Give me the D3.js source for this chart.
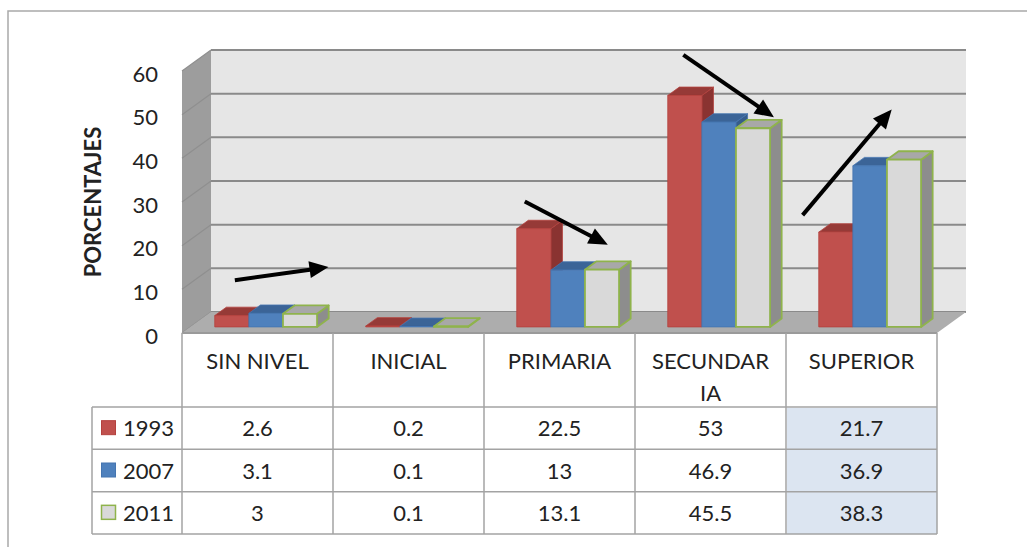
<!DOCTYPE html>
<html>
<head>
<meta charset="utf-8">
<script src="https://cdn.jsdelivr.net/npm/d3@7"></script>
<style>
  body { margin: 0; background: #fff; }
  svg { display: block; }
  text { font-family: Lato, "Open Sans", sans-serif; fill: #222; }
</style>
</head>
<body>
<svg id="chart" width="1027" height="547"></svg>
<script>
// ---- data ----
const categories = ["SIN NIVEL", "INICIAL", "PRIMARIA", "SECUNDARIA", "SUPERIOR"];
const years = ["1993", "2007", "2011"];
const values1993 = [2.6, 0.2, 22.5, 53, 21.7];
const values2007 = [3.1, 0.1, 13, 46.9, 36.9];
const values2011 = [3, 0.1, 13.1, 45.5, 38.3];
const yTicks = [0, 10, 20, 30, 40, 50, 60];
const yTitle = "PORCENTAJES";
// trend arrows, given as [start category position, start value, end category position, end value]
const trendStart = [[0.35, 12.1], [2.27, 30.1], [3.32, 63.7], [4.11, 27.0]];
const trendEnd   = [[0.97, 15.1], [2.82, 20.2], [3.92, 49.4], [4.70, 51.2]];

const seriesValues = [values1993, values2007, values2011];

// ---- layout ----
const svg = d3.select("#chart");
const plotLeft = 182, plotRight = 937;
const floorY = 333;          // front edge of the floor (value 0, front plane)
const depthX = 29, depthY = 21;
const zFront = 0.29, zBack = 0.69;   // bar depth inside the floor

const x = d3.scaleBand().domain(categories).range([plotLeft, plotRight]);
const xPos = d3.scaleLinear().domain([0, categories.length]).range([plotLeft, plotRight]);
const xs = d3.scaleBand().domain(years).range([0, x.bandwidth()]).paddingInner(0).paddingOuter(0.714);
const y = d3.scaleLinear().domain([0, 60]).range([0, 262]);

const project = (px, v, z) => [px + z * depthX, floorY - z * depthY - y(v)];
const poly = pts => pts.map(p => p.join(",")).join(" ");

// outer frame (top and left edges are visible)
svg.append("path").attr("d", "M8,547 V11 H1027")
  .attr("fill", "none").attr("stroke", "#a9a9a9").attr("stroke-width", 1.5);

// ---- walls and floor ----
const yMax = y.domain()[1];
svg.append("polygon")
  .attr("points", poly([project(plotLeft, 0, 1), project(plotRight, 0, 1), project(plotRight, yMax, 1), project(plotLeft, yMax, 1)]))
  .attr("fill", "#e6e6e6");
svg.append("polygon")
  .attr("points", poly([project(plotLeft, 0, 0), project(plotLeft, 0, 1), project(plotLeft, yMax, 1), project(plotLeft, yMax, 0)]))
  .attr("fill", "#9d9d9d");

// gridlines on back wall and side wall
yTicks.forEach(t => {
  const a = project(plotLeft, t, 1), b = project(plotRight, t, 1), c = project(plotLeft, t, 0);
  svg.append("line").attr("x1", a[0]).attr("y1", a[1]).attr("x2", b[0]).attr("y2", b[1])
    .attr("stroke", "#8a8a8a").attr("stroke-width", 2);
  svg.append("line").attr("x1", c[0]).attr("y1", c[1]).attr("x2", a[0]).attr("y2", a[1])
    .attr("stroke", "#8f8f8f").attr("stroke-width", 1.2);
});

svg.append("polygon")
  .attr("points", poly([project(plotLeft, 0, 0), project(plotRight, 0, 0), project(plotRight, 0, 1), project(plotLeft, 0, 1)]))
  .attr("fill", "#adadad");

// ---- bars ----
const barStyles = [
  { front: "#c0504d", top: "#963a37", side: "#8a3331", stroke: "#b4413e", sw: 0.8 },
  { front: "#4f81bd", top: "#3b6497", side: "#375d8a", stroke: "#4575b0", sw: 0.8 },
  { front: "#d9d9d9", top: "#a8a8a8", side: "#8d8d8d", stroke: "#8fb34c", sw: 1.8 }
];

categories.forEach((cat, ci) => {
  years.forEach((yr, si) => {
    const v = seriesValues[si][ci];
    const x0 = x(cat) + xs(yr), x1 = x0 + xs.bandwidth();
    const st = barStyles[si];
    const g = svg.append("g");
    g.append("polygon")
      .attr("points", poly([project(x1, 0, zFront), project(x1, 0, zBack), project(x1, v, zBack), project(x1, v, zFront)]))
      .attr("fill", st.side).attr("stroke", st.stroke).attr("stroke-width", st.sw).attr("stroke-linejoin", "round");
    g.append("polygon")
      .attr("points", poly([project(x0, v, zFront), project(x1, v, zFront), project(x1, v, zBack), project(x0, v, zBack)]))
      .attr("fill", st.top).attr("stroke", st.stroke).attr("stroke-width", st.sw).attr("stroke-linejoin", "round");
    g.append("polygon")
      .attr("points", poly([project(x0, 0, zFront), project(x1, 0, zFront), project(x1, v, zFront), project(x0, v, zFront)]))
      .attr("fill", st.front).attr("stroke", st.stroke).attr("stroke-width", st.sw).attr("stroke-linejoin", "round");
  });
});

// ---- trend arrows ----
trendStart.forEach((s, i) => {
  const e = trendEnd[i];
  const x1 = xPos(s[0]), y1 = floorY - y(s[1]);
  const x2 = xPos(e[0]), y2 = floorY - y(e[1]);
  const ang = Math.atan2(y2 - y1, x2 - x1);
  const headL = 19, headW = 8.5;
  const bx = x2 - headL * Math.cos(ang), by = y2 - headL * Math.sin(ang);
  svg.append("line").attr("x1", x1).attr("y1", y1).attr("x2", bx + 2 * Math.cos(ang)).attr("y2", by + 2 * Math.sin(ang))
    .attr("stroke", "#000").attr("stroke-width", 4);
  svg.append("polygon")
    .attr("points", poly([
      [x2, y2],
      [bx + headW * Math.sin(ang), by - headW * Math.cos(ang)],
      [bx - headW * Math.sin(ang), by + headW * Math.cos(ang)]
    ]))
    .attr("fill", "#000");
});

// ---- y axis labels ----
svg.append("g").selectAll("text").data(yTicks).join("text")
  .attr("x", 158).attr("y", d => floorY - y(d) + 10.5)
  .attr("text-anchor", "end").attr("font-size", 22)
  .text(d => d);

svg.append("text")
  .attr("transform", "translate(101,202) rotate(-90)")
  .attr("text-anchor", "middle").attr("font-size", 22).attr("font-weight", "bold")
  .text(yTitle);

// ---- data table ----
const headerTop = floorY, headerBottom = 407, tableBottom = 534;
const legendLeft = 92;
const rowH = (tableBottom - headerBottom) / years.length;
const lineCol = "#a3a3a3";

// highlighted column
svg.append("rect")
  .attr("x", x("SUPERIOR") + 1).attr("y", headerBottom + 1)
  .attr("width", x.bandwidth() - 1).attr("height", tableBottom - headerBottom - 1)
  .attr("fill", "#dce5f1");

// horizontal rules
svg.append("line").attr("x1", plotLeft).attr("x2", plotRight).attr("y1", headerTop).attr("y2", headerTop)
  .attr("stroke", "#9a9a9a").attr("stroke-width", 2);
d3.range(years.length + 1).forEach(i => {
  const yy = headerBottom + i * rowH;
  svg.append("line").attr("x1", legendLeft).attr("x2", plotRight).attr("y1", yy).attr("y2", yy)
    .attr("stroke", lineCol).attr("stroke-width", 1.5);
});
// vertical rules
d3.range(categories.length + 1).forEach(i => {
  const xx = xPos(i);
  svg.append("line").attr("x1", xx).attr("x2", xx).attr("y1", headerTop).attr("y2", tableBottom)
    .attr("stroke", lineCol).attr("stroke-width", 1.5);
});
svg.append("line").attr("x1", legendLeft).attr("x2", legendLeft).attr("y1", headerBottom).attr("y2", tableBottom)
  .attr("stroke", lineCol).attr("stroke-width", 1.5);

// category headers, wrapped by character when too wide for the cell
const maxW = x.bandwidth() - 31;
categories.forEach(cat => {
  const cx = x(cat) + x.bandwidth() / 2;
  const t = svg.append("text").attr("x", cx).attr("y", 369).attr("text-anchor", "middle").attr("font-size", 22).text(cat);
  if (t.node().getComputedTextLength() > maxW) {
    let cut = cat.length;
    while (cut > 1) {
      t.text(cat.slice(0, cut));
      if (t.node().getComputedTextLength() <= maxW) break;
      cut--;
    }
    svg.append("text").attr("x", cx).attr("y", 401).attr("text-anchor", "middle").attr("font-size", 22).text(cat.slice(cut));
  }
});

// legend keys and values
years.forEach((yr, si) => {
  const top = headerBottom + si * rowH;
  const cy = top + rowH / 2;
  const st = barStyles[si];
  svg.append("rect").attr("x", 101.5).attr("y", cy - 7.5).attr("width", 14).attr("height", 14)
    .attr("fill", st.front).attr("stroke", st.stroke).attr("stroke-width", si === 2 ? 1.5 : 1);
  svg.append("text").attr("x", 123).attr("y", cy + 8).attr("font-size", 22).text(yr);
  categories.forEach((cat, ci) => {
    svg.append("text").attr("x", x(cat) + x.bandwidth() / 2).attr("y", cy + 8)
      .attr("text-anchor", "middle").attr("font-size", 22)
      .text(seriesValues[si][ci]);
  });
});
</script>
</body>
</html>
